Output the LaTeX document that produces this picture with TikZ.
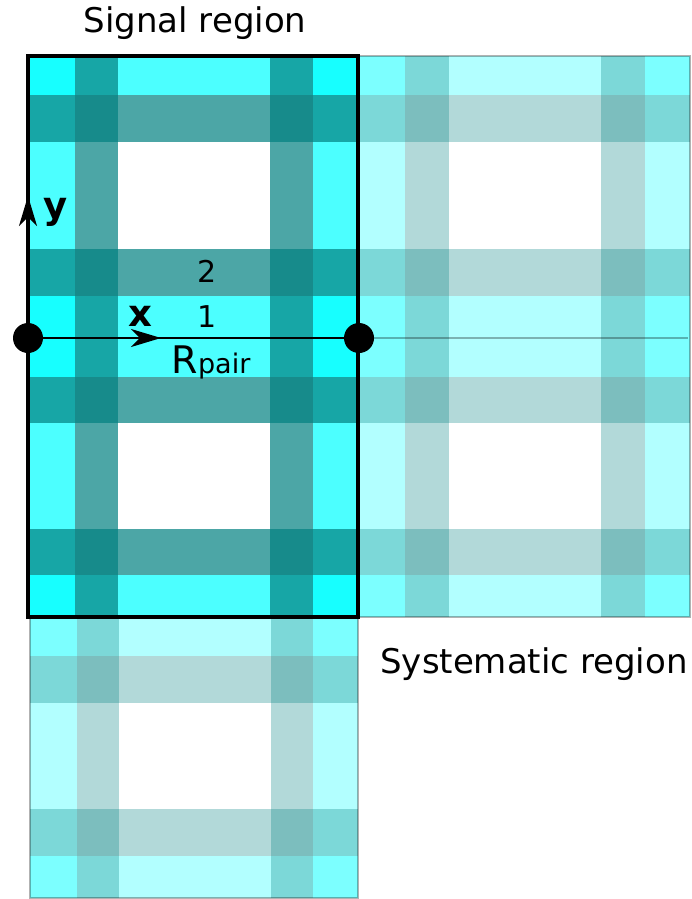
\documentclass[tikz,border=0pt]{standalone}
\usepackage{fontspec}
\setmainfont{DejaVu Sans}
\usetikzlibrary{arrows.meta}
\definecolor{cyanc}{RGB}{0,255,255}
\definecolor{tealc}{RGB}{0,128,128}
\newcommand\mytile[5]{%
\begin{scope}[shift={(#1,#2)},xscale=#3,yscale=#4]
 \fill[cyanc,fill opacity=#5] (0,0) rectangle (47,281);
 \fill[cyanc,fill opacity=#5] (285,0) rectangle (330,281);
 \fill[cyanc,fill opacity=#5] (0,0) rectangle (330,39);
 \fill[cyanc,fill opacity=#5] (0,239) rectangle (330,281);
 \fill[tealc,fill opacity=#5] (47,0) rectangle (90,281);
 \fill[tealc,fill opacity=#5] (242,0) rectangle (285,281);
 \fill[tealc,fill opacity=#5] (0,39) rectangle (330,86);
 \fill[tealc,fill opacity=#5] (0,192) rectangle (330,239);
\end{scope}}
\tikzset{
  dotnode/.style={circle,fill=black,inner sep=0pt,minimum size=30pt},
  lbl/.style={inner sep=0pt,anchor=base},
  arr/.style={-{Stealth[length=30pt,width=18pt,inset=9pt]}}
}
\begin{document}
\begin{tikzpicture}[x=1pt,y=-1pt]
\useasboundingbox (0,0) rectangle (691,899);
% faded regions
\mytile{358}{56}{1.006}{1.0036}{0.3}
\mytile{358}{338}{1.006}{0.9929}{0.3}
\mytile{30}{617}{0.9939}{1.0}{0.3}
\draw[black,draw opacity=0.3,line width=2pt] (358,56) rectangle (690,617);
\draw[black,draw opacity=0.3,line width=2pt] (30,617) rectangle (358,898);
\coordinate (fl) at (358,338);
\coordinate (fr) at (688,338);
\draw[black,draw opacity=0.3,line width=2pt] (fl) -- (fr);
% signal region
\mytile{28}{56}{1.0}{1.0036}{0.7}
\mytile{28}{338}{1.0}{0.9929}{0.7}
\draw[black,line width=3.5pt] (28,56) rectangle (358,617);
% pair line
\node[dotnode] (L) at (28,338) {};
\node[dotnode] (R) at (359,338) {};
\coordinate (xa) at (161,338);
\draw[line width=2pt] (L.center) -- (R.center);
\draw[line width=2pt,arr] (L.center) -- (xa);
\coordinate (ys) at (28,240);
\coordinate (ye) at (28,196);
\draw[line width=2pt,arr] (ys) -- (ye);
% labels
\node[lbl,font=\fontsize{34}{40}\selectfont] (sig) at (195,33) {Signal region};
\node[lbl,font=\fontsize{34}{40}\selectfont] (sys) at (534,673) {Systematic region};
\node[lbl,font=\bfseries\fontsize{37}{40}\selectfont] (ylab) at (56,218) {y};
\node[lbl,font=\bfseries\fontsize{37}{40}\selectfont] (xlab) at (140,326) {x};
\node[lbl,font=\fontsize{30}{36}\selectfont] (two) at (207,282) {2};
\node[lbl,font=\fontsize{30}{36}\selectfont] (one) at (207,327) {1};
\node[lbl] (rp) at (211,373) {{\fontsize{38}{40}\selectfont R}{\fontsize{27}{30}\selectfont pair}};
\end{tikzpicture}
\end{document}
